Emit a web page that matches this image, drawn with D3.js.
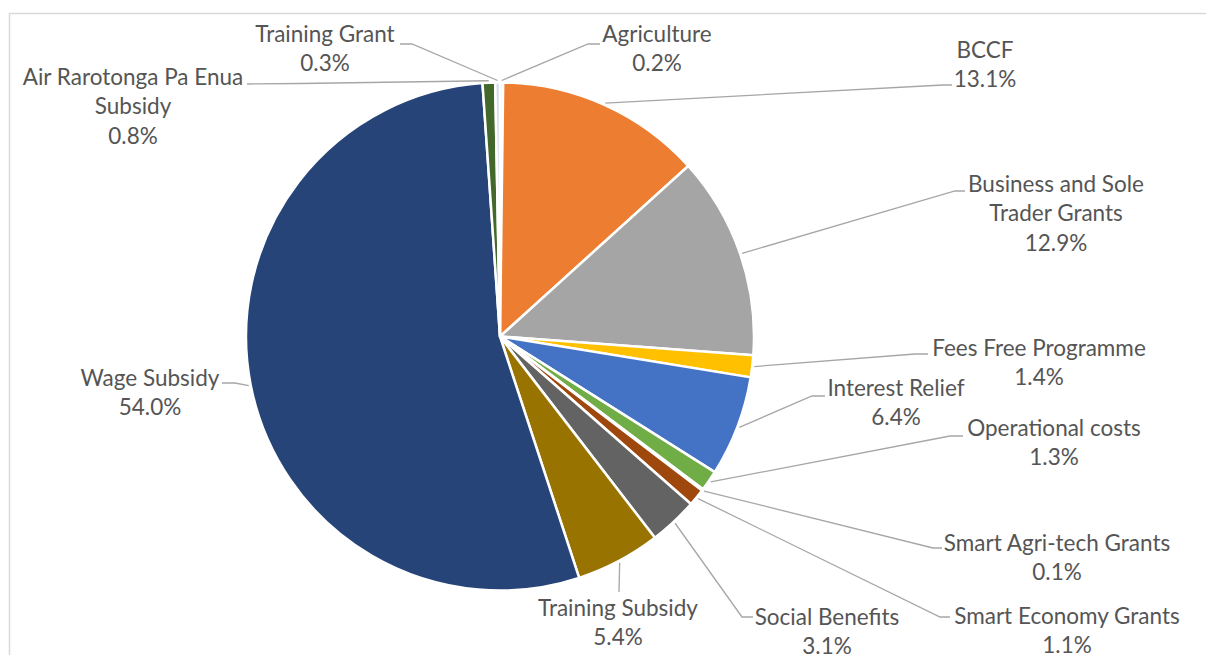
<!DOCTYPE html>
<html>
<head>
<meta charset="utf-8">
<script src="https://cdn.jsdelivr.net/npm/d3@7"></script>
<style>
  html, body { margin: 0; padding: 0; background: #fff; }
  svg { display: block; }
  text { font-family: Lato, "Open Sans", sans-serif; fill: #555; }
</style>
</head>
<body>
<svg id="chart" width="1206" height="655"></svg>
<script>
// Programme spending shares, clockwise from 12 o'clock
const categories = [
  "Agriculture", "BCCF", "Business and Sole Trader Grants", "Fees Free Programme",
  "Interest Relief", "Operational costs", "Smart Agri-tech Grants", "Smart Economy Grants",
  "Social Benefits", "Training Subsidy", "Wage Subsidy", "Air Rarotonga Pa Enua Subsidy",
  "Training Grant"
];
const shares = [0.2, 13.1, 12.9, 1.4, 6.4, 1.3, 0.1, 1.1, 3.1, 5.4, 54.0, 0.8, 0.3];
const percentLabels = ["0.2%", "13.1%", "12.9%", "1.4%", "6.4%", "1.3%", "0.1%", "1.1%",
  "3.1%", "5.4%", "54.0%", "0.8%", "0.3%"];
const sliceColors = ["#dfe7f5", "#ED7D31", "#A5A5A5", "#FFC000", "#4472C4", "#70AD47",
  "#264478", "#9E480E", "#636363", "#997300", "#264478", "#43682B", "#d3ddf0"];

// Label placement: name lines, text centre, leader elbow and leader end
const labelLayout = [
  { lines: ["Agriculture"], x: 657, y: 33, elbow: [588, 44], end: [600, 44] },
  { lines: ["BCCF"], x: 985, y: 49, elbow: [943, 85], end: [952, 85] },
  { lines: ["Business and Sole", "Trader Grants"], x: 1056, y: 183, elbow: [955, 191], end: [965, 191] },
  { lines: ["Fees Free Programme"], x: 1039, y: 347, elbow: [915, 354], end: [928, 354] },
  { lines: ["Interest Relief"], x: 896, y: 387, elbow: [812, 396], end: [825, 396] },
  { lines: ["Operational costs"], x: 1054, y: 427, elbow: [950, 436], end: [963, 436] },
  { lines: ["Smart Agri-tech Grants"], x: 1057, y: 542, elbow: [933, 548], end: [942, 548] },
  { lines: ["Smart Economy Grants"], x: 1067, y: 615, elbow: [940, 617], end: [950, 617] },
  { lines: ["Social Benefits"], x: 827, y: 616, elbow: [742, 617], end: [753, 617] },
  { lines: ["Training Subsidy"], x: 618, y: 607, elbow: [619, 592], end: [619, 592] },
  { lines: ["Wage Subsidy"], x: 150, y: 377, elbow: [235, 383], end: [222, 383] },
  { lines: ["Air Rarotonga Pa Enua", "Subsidy"], x: 133, y: 76, elbow: [300, 83.5], end: [247, 84] },
  { lines: ["Training Grant"], x: 325, y: 33, elbow: [412, 44], end: [400, 44] }
];

const width = 1206, height = 655;
const cx = 500, cy = 336.5, radius = 254;
const lineGap = 29.5;

const svg = d3.select("#chart");

// chart frame
svg.append("rect")
  .attr("x", 9.5).attr("y", 13.5)
  .attr("width", 1300).attr("height", 700)
  .attr("fill", "none").attr("stroke", "#d9d9d9").attr("stroke-width", 1.5);

const data = categories.map((c, i) => ({ name: c, value: shares[i], label: percentLabels[i], color: sliceColors[i], layout: labelLayout[i] }));

const pie = d3.pie().value(d => d.value).sort(null).startAngle(0).endAngle(2 * Math.PI);
const arcs = pie(data);

const arc = d3.arc().innerRadius(0).outerRadius(radius);
const g = svg.append("g").attr("transform", `translate(${cx},${cy})`);

g.selectAll("path.slice")
  .data(arcs)
  .join("path")
  .attr("class", "slice")
  .attr("d", arc)
  .attr("fill", d => d.data.color)
  .attr("stroke", "#fff")
  .attr("stroke-width", 2.5)
  .attr("stroke-linejoin", "round");

// leader lines start on the rim at each slice's mid-angle
const rim = d3.arc().innerRadius(radius + 2).outerRadius(radius + 2);
const leaders = svg.append("g");
arcs.forEach(a => {
  const [sx, sy] = rim.centroid(a);
  const L = a.data.layout;
  leaders.append("polyline")
    .attr("points", [[cx + sx, cy + sy], L.elbow, L.end].map(p => p.join(",")).join(" "))
    .attr("fill", "none")
    .attr("stroke", "#a6a6a6")
    .attr("stroke-width", 1.3);
});

const labels = svg.append("g");
arcs.forEach(a => {
  const L = a.data.layout;
  const t = labels.append("text")
    .attr("text-anchor", "middle")
    .attr("font-size", 22.5);
  L.lines.concat([a.data.label]).forEach((s, k) => {
    t.append("tspan")
      .attr("x", L.x)
      .attr("y", L.y + k * lineGap)
      .attr("dominant-baseline", "central")
      .text(s);
  });
});
</script>
</body>
</html>
